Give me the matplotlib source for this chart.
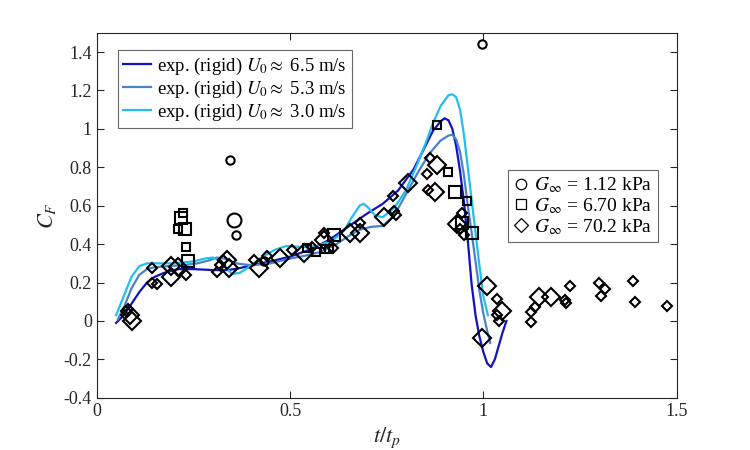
import matplotlib
matplotlib.use("Agg")
import matplotlib.pyplot as plt
from matplotlib.lines import Line2D
from matplotlib.ticker import FormatStrFormatter

plt.rcParams['font.family'] = 'serif'
plt.rcParams['font.serif'] = ['Liberation Serif', 'DejaVu Serif']
plt.rcParams['mathtext.fontset'] = 'stix'
plt.rcParams['axes.unicode_minus'] = False

# rigid experiments, C_F against t/t_p
t_65 = [0.05, 0.07, 0.09, 0.11, 0.13, 0.15, 0.18, 0.21, 0.25, 0.30, 0.34, 0.37, 0.40,
        0.45, 0.50, 0.55, 0.60, 0.65, 0.70, 0.74, 0.78, 0.82, 0.85, 0.87, 0.89, 0.90,
        0.91, 0.92, 0.93, 0.94, 0.95, 0.96, 0.97, 0.98, 0.99, 1.00, 1.01, 1.02, 1.03,
        1.04, 1.05, 1.06]
cf_65 = [-0.01, 0.03, 0.09, 0.15, 0.20, 0.23, 0.255, 0.27, 0.27, 0.265, 0.265, 0.275, 0.29,
         0.31, 0.335, 0.37, 0.42, 0.49, 0.56, 0.61, 0.68, 0.79, 0.91, 0.99, 1.04, 1.055,
         1.045, 1.00, 0.91, 0.78, 0.62, 0.42, 0.19, 0.03, -0.08, -0.16, -0.22, -0.24, -0.20,
         -0.13, -0.06, 0.0]

t_53 = [0.055, 0.07, 0.09, 0.11, 0.13, 0.15, 0.18, 0.22, 0.26, 0.29, 0.31, 0.33, 0.36,
        0.40, 0.45, 0.50, 0.54, 0.58, 0.62, 0.65, 0.68, 0.71, 0.74, 0.77, 0.80, 0.83,
        0.86, 0.89, 0.91, 0.92, 0.93, 0.94, 0.95, 0.96, 0.97, 0.98, 0.99, 1.00, 1.01, 1.018]
cf_53 = [0.01, 0.07, 0.17, 0.24, 0.27, 0.28, 0.285, 0.29, 0.30, 0.315, 0.33, 0.325, 0.30,
         0.29, 0.30, 0.325, 0.34, 0.36, 0.40, 0.44, 0.475, 0.49, 0.495, 0.55, 0.66, 0.77,
         0.87, 0.94, 0.965, 0.97, 0.945, 0.88, 0.76, 0.60, 0.46, 0.31, 0.16, 0.04, -0.05, -0.115]

t_30 = [0.05, 0.07, 0.09, 0.11, 0.13, 0.15, 0.20, 0.25, 0.28, 0.30, 0.32, 0.34, 0.35,
        0.37, 0.40, 0.43, 0.46, 0.49, 0.53, 0.57, 0.61, 0.64, 0.66, 0.68, 0.69, 0.70,
        0.72, 0.74, 0.77, 0.80, 0.83, 0.85, 0.87, 0.89, 0.91, 0.92, 0.93, 0.94, 0.95,
        0.96, 0.97, 0.98, 0.99, 1.00, 1.012]
cf_30 = [0.03, 0.13, 0.23, 0.285, 0.30, 0.30, 0.30, 0.31, 0.325, 0.33, 0.315, 0.265, 0.245,
         0.25, 0.29, 0.335, 0.37, 0.39, 0.385, 0.39, 0.42, 0.47, 0.54, 0.60, 0.61, 0.595,
         0.55, 0.54, 0.59, 0.68, 0.82, 0.92, 1.03, 1.12, 1.175, 1.18, 1.165, 1.10, 0.97,
         0.80, 0.63, 0.46, 0.29, 0.13, 0.03]

# G = 1.12 kPa (circles)
circ_big_t = [0.355]
circ_big_cf = [0.525]
circ_small_t = [0.346, 0.36, 0.997, 0.434]
circ_small_cf = [0.84, 0.45, 1.44, 0.31]

# G = 6.70 kPa (squares)
sq_big_t = [0.219, 0.228, 0.236, 0.615, 0.928, 0.946, 0.972]
sq_big_cf = [0.535, 0.48, 0.31, 0.45, 0.67, 0.51, 0.46]
sq_small_t = [0.222, 0.209, 0.232, 0.543, 0.568, 0.59, 0.60, 0.881, 0.91, 0.959]
sq_small_cf = [0.56, 0.48, 0.385, 0.38, 0.36, 0.375, 0.375, 1.02, 0.775, 0.625]

# G = 70.2 kPa (diamonds)
dia_big_t = [0.085, 0.09, 0.193, 0.193, 0.21, 0.336, 0.341, 0.42, 0.473, 0.537, 0.589,
             0.654, 0.682, 0.742, 0.806, 0.881, 0.876, 0.933, 1.010, 1.049, 0.997, 1.145, 1.175]
dia_big_cf = [0.03, 0.0, 0.23, 0.285, 0.28, 0.32, 0.275, 0.275, 0.33, 0.355, 0.42,
              0.46, 0.46, 0.54, 0.72, 0.81, 0.67, 0.505, 0.18, 0.05, -0.09, 0.125, 0.125]
dia_small_t = [0.075, 0.08, 0.142, 0.142, 0.155, 0.232, 0.31, 0.318, 0.326, 0.408, 0.44,
               0.504, 0.558, 0.587, 0.61, 0.68, 0.767, 0.77, 0.775, 0.863, 0.855, 0.858,
               0.946, 0.951, 0.94, 1.036, 1.036, 1.042, 1.124, 1.124, 1.134, 1.212, 1.214,
               1.225, 1.30, 1.315, 1.305, 1.388, 1.393, 1.475]
dia_small_cf = [0.05, 0.06, 0.275, 0.2, 0.19, 0.24, 0.255, 0.29, 0.32, 0.32, 0.34,
                0.37, 0.385, 0.46, 0.38, 0.51, 0.65, 0.57, 0.55, 0.85, 0.765, 0.68,
                0.56, 0.45, 0.48, 0.115, 0.03, 0.0, 0.045, -0.005, 0.075, 0.11, 0.095,
                0.18, 0.2, 0.165, 0.13, 0.21, 0.1, 0.08]

labels_rigid = [r'exp. (rigid) $U_{\mathit{0}}\approx$ 6.5 m/s',
                r'exp. (rigid) $U_{\mathit{0}}\approx$ 5.3 m/s',
                r'exp. (rigid) $U_{\mathit{0}}\approx$ 3.0 m/s']
labels_G = [r'$G_{\infty}$ = 1.12 kPa', r'$G_{\infty}$ = 6.70 kPa', r'$G_{\infty}$ = 70.2 kPa']

c_dark = '#1212c4'
c_mid = '#4a82c8'
c_light = '#20bff0'

fig = plt.figure(figsize=(7.5, 4.5), dpi=100)
ax = fig.add_axes([0.129, 0.116, 0.773, 0.811])

l1, = ax.plot(t_65, cf_65, color=c_dark, lw=1.6)
l2, = ax.plot(t_53, cf_53, color=c_mid, lw=1.6)
l3, = ax.plot(t_30, cf_30, color=c_light, lw=1.6)

mk = dict(ls='none', mfc='none', mec='k', mew=1.5)
ax.plot(circ_big_t, circ_big_cf, marker='o', ms=10, **mk)
ax.plot(circ_small_t, circ_small_cf, marker='o', ms=6, **mk)
ax.plot(sq_big_t, sq_big_cf, marker='s', ms=9, **mk)
ax.plot(sq_small_t, sq_small_cf, marker='s', ms=5.5, **mk)
ax.plot(dia_big_t, dia_big_cf, marker='D', ms=9, **mk)
ax.plot(dia_small_t, dia_small_cf, marker='D', ms=5.5, **mk)

ax.set_xlim(0, 1.5)
ax.set_ylim(-0.4, 1.5)
ax.set_xticks([0, 0.5, 1, 1.5])
ax.set_yticks([-0.4, -0.2, 0, 0.2, 0.4, 0.6, 0.8, 1, 1.2, 1.4])
ax.xaxis.set_major_formatter(FormatStrFormatter('%g'))
ax.yaxis.set_major_formatter(FormatStrFormatter('%g'))
ax.tick_params(direction='in', top=True, right=True, length=5, width=0.8,
               labelsize=13, colors='#262626', labelcolor='#262626')
for s in ax.spines.values():
    s.set_color('#262626')
    s.set_linewidth(0.8)

ax.set_xlabel(r'$t/t_p$', fontsize=16, color='#262626', labelpad=4)
ax.set_ylabel(r'$C_F$', fontsize=16, color='#262626', labelpad=4)

leg1 = ax.legend([l1, l2, l3], labels_rigid, loc='upper left', bbox_to_anchor=(0.036, 0.953),
                 borderaxespad=0, fontsize=13.5, handlelength=1.5, handletextpad=0.3,
                 labelspacing=0.1, borderpad=0.3, fancybox=False, edgecolor='#666666',
                 framealpha=1)
leg1.get_frame().set_linewidth(0.8)
ax.add_artist(leg1)

hs = [Line2D([], [], marker=m, ms=7.5, ls='none', mfc='none', mec='k', mew=0.9)
      for m in ['o', 's', 'D']]
leg2 = ax.legend(hs, labels_G, loc='upper left', bbox_to_anchor=(0.709, 0.625),
                 borderaxespad=0, fontsize=14, handlelength=0.8, handletextpad=0.25,
                 labelspacing=0.05, borderpad=0.3, fancybox=False, edgecolor='#666666',
                 framealpha=1)
leg2.get_frame().set_linewidth(0.8)

fig.savefig('out.png', dpi=100)
